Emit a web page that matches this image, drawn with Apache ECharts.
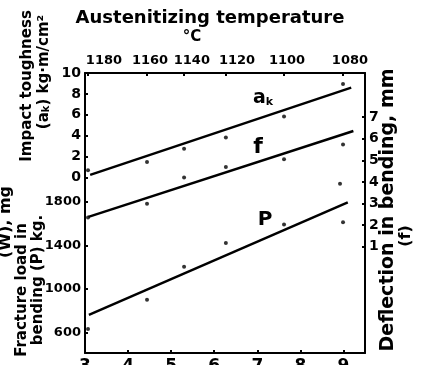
<!DOCTYPE html>
<html><head><meta charset="utf-8">
<script src="https://cdn.jsdelivr.net/npm/echarts@6/dist/echarts.min.js"></script>
<style>html,body{margin:0;padding:0;background:#fff}#c{width:431px;height:365px}</style>
</head><body><div id="c"></div>
<script>
// Data
const grainX = [3.07, 4.44, 5.30, 6.27, 7.62, 8.99];
const tempLabels = ['1180', '1160', '1140', '1120', '1100', '1080'];
const tempLabelAt = [3.44, 4.51, 5.48, 6.53, 7.69, 9.15];
const akValues = [0.7, 1.47, 2.76, 3.82, 5.84, 8.94];
const fValues = [2.35, 2.99, 4.2, 4.69, 5.05, 5.74];
const pValues = [637, 902, 1204, 1421, 1589, 1610];
const extraX = [8.92];
const extraF = [3.92];
const akFitX = [3.12, 9.18];
const akFitY = [0.25, 8.6];
const fFitX = [3.08, 9.23];
const fFitY = [2.38, 6.36];
const pFitX = [3.09, 9.1];
const pFitY = [765, 1791];
const bottomTicks = [3, 4, 5, 6, 7, 8, 9];
const akTicks = [0, 2, 4, 6, 8, 10];
const pTicks = [600, 1000, 1400, 1800];
const fTicks = [1, 2, 3, 4, 5, 6, 7];

const FONT = 'DejaVu Sans';
const INK = '#000';
const pair = (xs, ys) => xs.map((x, i) => [x, ys[i]]);

const chart = echarts.init(document.getElementById('c'), null, {renderer: 'canvas'});
const axisLine = {show: true, onZero: false, lineStyle: {color: INK, width: 2}};
const numLabel = {color: INK, fontFamily: FONT, fontWeight: 'bold', fontSize: 13};
const tick = vals => ({show: true, inside: true, length: 3, lineStyle: {color: INK, width: 2}, customValues: vals});
const T = (x, y, text, size, rot, extra) => Object.assign({type: 'text', x, y, rotation: rot ? Math.PI / 2 : 0,
  style: Object.assign({text, font: `bold ${size}px "${FONT}"`, fill: INK, textAlign: 'center', textVerticalAlign: 'middle'}, extra || {})});
const subK = size => ({k: {fontFamily: FONT, fontSize: size, fontWeight: 'bold', verticalAlign: 'bottom', fill: INK}});

const option = {
  backgroundColor: '#fff',
  animation: false,
  grid: {left: 85, right: 66, top: 73, bottom: 12, containLabel: false, outerBoundsMode: 'none'},
  xAxis: [
    {type: 'value', position: 'bottom', min: 3, max: 9.5,
     axisLine, splitLine: {show: false}, axisTick: tick(bottomTicks.slice(1)),
     axisLabel: Object.assign({}, numLabel, {fontSize: 17, margin: 5, customValues: bottomTicks, formatter: v => String(v)})},
    {type: 'value', position: 'top', min: 3, max: 9.5,
     axisLine, splitLine: {show: false}, axisTick: tick(grainX),
     axisLabel: Object.assign({}, numLabel, {margin: 6, customValues: tempLabelAt,
       formatter: v => {
         let best = 0;
         tempLabelAt.forEach((p, i) => { if (Math.abs(p - v) < Math.abs(tempLabelAt[best] - v)) best = i; });
         return tempLabels[best];
       }})}
  ],
  yAxis: [
    {type: 'value', position: 'left', min: 417, max: 2972,
     axisLine, splitLine: {show: false}, axisTick: tick(pTicks),
     axisLabel: Object.assign({}, numLabel, {margin: 4, customValues: pTicks, formatter: v => String(v)})},
    {type: 'value', position: 'left', min: -16.8, max: 10,
     axisLine: {show: false, onZero: false}, splitLine: {show: false}, axisTick: tick(akTicks),
     axisLabel: Object.assign({}, numLabel, {fontSize: 14, margin: 4, customValues: akTicks, formatter: v => String(v)})},
    {type: 'value', position: 'right', min: -3.93, max: 9.05,
     axisLine, splitLine: {show: false}, axisTick: tick(fTicks),
     axisLabel: Object.assign({}, numLabel, {fontSize: 14, margin: 4, customValues: fTicks, formatter: v => String(v)})}
  ],
  series: [
    {type: 'scatter', name: 'ak', yAxisIndex: 1, symbolSize: 4, itemStyle: {color: INK}, data: pair(grainX, akValues)},
    {type: 'line', name: 'ak fit', yAxisIndex: 1, symbol: 'none', lineStyle: {color: INK, width: 2.5}, data: pair(akFitX, akFitY)},
    {type: 'scatter', name: 'f', yAxisIndex: 2, symbolSize: 4, itemStyle: {color: INK}, data: pair(grainX, fValues).concat(pair(extraX, extraF))},
    {type: 'line', name: 'f fit', yAxisIndex: 2, symbol: 'none', lineStyle: {color: INK, width: 2.5}, data: pair(fFitX, fFitY)},
    {type: 'scatter', name: 'P', yAxisIndex: 0, symbolSize: 4, itemStyle: {color: INK}, data: pair(grainX, pValues)},
    {type: 'line', name: 'P fit', yAxisIndex: 0, symbol: 'none', lineStyle: {color: INK, width: 2.5}, data: pair(pFitX, pFitY)}
  ],
  graphic: [
    T(210, 18, 'Austenitizing temperature', 18, false),
    T(192, 37, '°C', 15, false),
    T(6, 222, '(W), mg', 16, true),
    T(22, 290, 'Fracture load in', 15, true),
    T(38, 280, 'bending (P) kg.', 15, true),
    T(27, 86, 'Impact toughness', 15, true),
    T(44, 72, '(a{k|k}) kg·m/cm²', 15, true, {rich: subK(10)}),
    T(388, 210, 'Deflection in bending, mm', 19, true),
    T(406, 236, '(f)', 16, true),
    T(263, 98, 'a{k|k}', 19, false, {rich: subK(11)}),
    T(258, 147, 'f', 22, false),
    T(265, 220, 'P', 20, false)
  ]
};
chart.setOption(option);
</script>
</body></html>
